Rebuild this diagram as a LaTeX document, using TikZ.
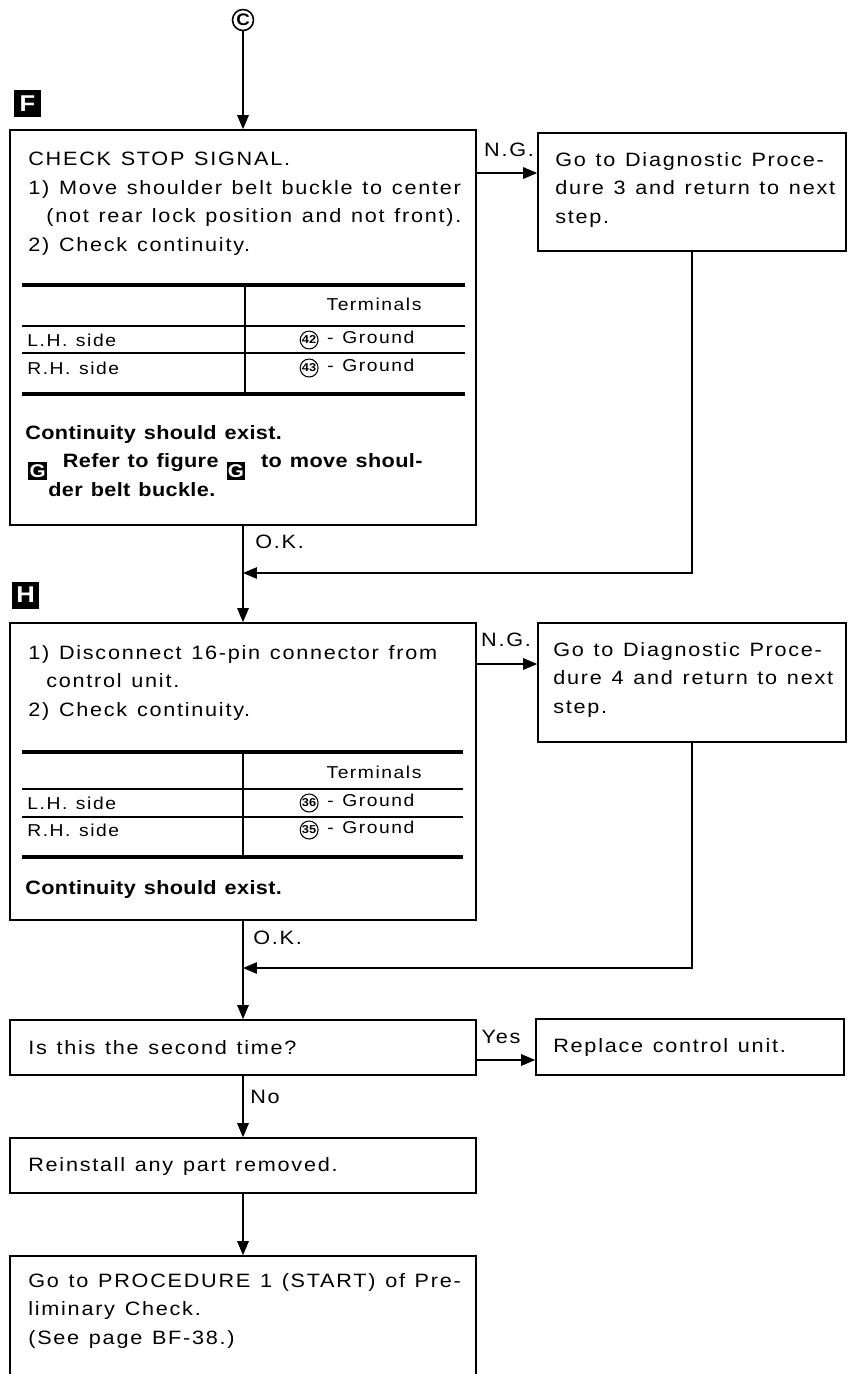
\documentclass[tikz,border=0pt]{standalone}
\usepackage{fontspec}
\setmainfont{Liberation Sans}[FakeStretch=1.12, LetterSpace=9, WordSpace=1.25,
    BoldFeatures={LetterSpace=2}]
\usetikzlibrary{arrows.meta, positioning, calc}
\tikzset{
    blk/.style    ={draw, line width=0.95pt, inner sep=0pt},
    wideblk/.style={blk, minimum width=9.32cm},
    sideblk/.style={blk, minimum width=6.16cm},
    txt/.style    ={inner sep=0pt, align=left, font=\fontsize{11}{16.2}\selectfont},
    btxt/.style   ={txt, font=\fontsize{11}{16.2}\selectfont\bfseries},
    tab/.style    ={inner sep=0pt, font=\fontsize{9.8}{11}\selectfont},
    lbl/.style    ={inner sep=0pt, font=\fontsize{11}{12}\selectfont},
    ar/.style     ={-{Triangle[length=2.8mm, width=2.3mm]}, line width=0.75pt},
    thk/.style    ={line width=2.3pt},
    thn/.style    ={line width=0.75pt},
    tagsq/.style  ={fill=black, text=white, inner sep=0pt, minimum size=0.54cm,
                    font=\fontsize{13}{13}\selectfont\bfseries}
}
\newcommand{\cnum}[1]{\tikz[baseline=(cn.base)]\node[draw, circle, line width=0.6pt,
    inner sep=0.3pt, font=\fontsize{6.5}{7}\selectfont\bfseries] (cn) {#1};}
\newcommand{\tagG}{\tikz[baseline=-3.6pt]\node[fill=black, text=white, inner sep=0pt,
    minimum size=0.37cm, font=\fontsize{10.5}{10.5}\selectfont\bfseries] (tg) {G};}

\begin{document}
\begin{tikzpicture}[x=0.02cm, y=0.02cm]
  \useasboundingbox (0,0) rectangle (850,-1374);

  % entry and step tags
  \node[circle, draw, line width=0.9pt, inner sep=0pt, minimum size=0.42cm,
        font=\fontsize{9.5}{9.5}\selectfont\bfseries] (entryC) at (243,-20) {C};
  \node[tagsq] (tagF) at (27.5,-103.5) {F};
  \node[tagsq] (tagH) at (25.5,-595) {H};

  % step F: stop signal
  \node[wideblk, minimum height=7.9cm] (chkF) at (243,-327.5) {};
  \node[txt, anchor=north west] (chkFtxt) at (28,-152)
        {CHECK STOP SIGNAL.\\1) Move shoulder belt buckle to center\\
         \hspace*{0.36cm}(not rear lock position and not front).\\2) Check continuity.};
  \draw[thk] (22,-285) -- (465,-285);
  \draw[thn] (22,-326) -- (465,-326);
  \draw[thn] (22,-353) -- (465,-353);
  \draw[thk] (22,-394) -- (465,-394);
  \draw[thn] (245,-285) -- (245,-394);
  \node[tab] (tFhd) at (374,-304) {Terminals};
  \node[tab, anchor=west] (tFl) at (27,-340) {L.H. side};
  \node[tab] (tFlt) at (357,-340) {\cnum{42} - Ground};
  \node[tab, anchor=west] (tFr) at (27,-368) {R.H. side};
  \node[tab] (tFrt) at (357,-368) {\cnum{43} - Ground};
  \node[btxt, anchor=north west] (chkFok) at (25,-425)
        {Continuity should exist.\\
         \hspace*{0.06cm}\tagG\ \ Refer to figure \tagG\ \ to move shoul-\\
         \hspace*{0.46cm}der belt buckle.};

  \node[sideblk, minimum height=2.36cm] (diag3) at (692,-192) {};
  \node[txt, anchor=north west] (diag3txt) at (555,-152)
        {Go to Diagnostic Proce-\\dure 3 and return to next\\step.};

  % step H: connector continuity
  \node[wideblk, minimum height=5.94cm] (chkH) at (243,-771.5) {};
  \node[txt, anchor=north west] (chkHtxt) at (28,-645)
        {1) Disconnect 16-pin connector from\\
         \hspace*{0.36cm}control unit.\\2) Check continuity.};
  \draw[thk] (22,-752) -- (463,-752);
  \draw[thn] (22,-789) -- (463,-789);
  \draw[thn] (22,-817) -- (463,-817);
  \draw[thk] (22,-857) -- (463,-857);
  \draw[thn] (243,-752) -- (243,-857);
  \node[tab] (tHhd) at (374,-772) {Terminals};
  \node[tab, anchor=west] (tHl) at (27,-803) {L.H. side};
  \node[tab] (tHlt) at (357,-803) {\cnum{36} - Ground};
  \node[tab, anchor=west] (tHr) at (27,-830) {R.H. side};
  \node[tab] (tHrt) at (357,-830) {\cnum{35} - Ground};
  \node[btxt, anchor=north west] (chkHok) at (25,-880) {Continuity should exist.};

  \node[sideblk, minimum height=2.38cm] (diag4) at (692,-682.5) {};
  \node[txt, anchor=north west] (diag4txt) at (553,-642)
        {Go to Diagnostic Proce-\\dure 4 and return to next\\step.};

  % final steps
  \node[wideblk, minimum height=1.1cm] (askQ) at (243,-1047.5) {};
  \node[txt, anchor=west] (askQtxt) at (28,-1048) {Is this the second time?};
  \node[sideblk, minimum height=1.12cm] (replc) at (690,-1047) {};
  \node[txt, anchor=west] (replctxt) at (553,-1047) {Replace control unit.};
  \node[wideblk, minimum height=1.1cm] (reinst) at (243,-1165.5) {};
  \node[txt, anchor=west] (reinsttxt) at (28,-1166) {Reinstall any part removed.};
  \node[wideblk, minimum height=2.88cm] (goP1) at (243,-1328) {};
  \node[txt, anchor=north west] (goP1txt) at (28,-1273)
        {Go to PROCEDURE 1 (START) of Pre-\\liminary Check.\\(See page BF-38.)};

  % connectors
  \coordinate (ngF) at (0,-173);
  \coordinate (ngH) at (0,-664);
  \coordinate (yesY) at (0,-1060);
  \coordinate (joinF) at (243,-573);
  \coordinate (joinH) at (243,-968);

  \draw[ar] (entryC) -- (chkF.north);
  \draw[ar] (chkF.east |- ngF) -- (diag3.west |- ngF);
  \node[lbl] (ngFl) at (509,-150) {N.G.};
  \draw[ar] (diag3.south) |- (joinF);
  \draw[ar] (chkF.south) -- (chkH.north);
  \node[lbl, anchor=west] (okF) at (255,-542) {O.K.};

  \draw[ar] (chkH.east |- ngH) -- (diag4.west |- ngH);
  \node[lbl] (ngHl) at (506,-640) {N.G.};
  \draw[ar] (diag4.south) |- (joinH);
  \draw[ar] (chkH.south) -- (askQ.north);
  \node[lbl, anchor=west] (okH) at (253,-938) {O.K.};

  \draw[ar] (askQ.east |- yesY) -- (replc.west |- yesY);
  \node[lbl] (yesl) at (501,-1037) {Yes};
  \draw[ar] (askQ.south) -- (reinst.north);
  \node[lbl, anchor=west] (nol) at (250,-1097) {No};
  \draw[ar] (reinst.south) -- (goP1.north);
\end{tikzpicture}
\end{document}
